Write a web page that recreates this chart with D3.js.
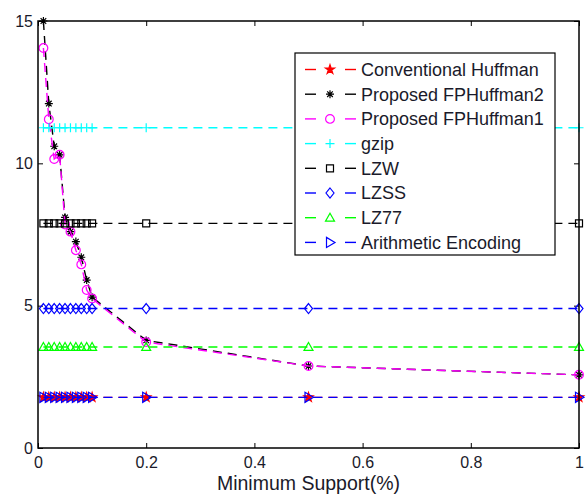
<!DOCTYPE html>
<html><head><meta charset="utf-8">
<script src="https://cdn.jsdelivr.net/npm/d3@7"></script>
<style>body{margin:0;background:#fff}text{font-family:"Liberation Sans",Arial,sans-serif;fill:#1a1a2a}</style>
</head><body><svg id="c" width="586" height="494"></svg>
<script>
const xValues = [0.01,0.02,0.03,0.04,0.05,0.06,0.07,0.08,0.09,0.1,0.2,0.5,1];
const conventionalHuffman = [1.78,1.78,1.78,1.78,1.78,1.78,1.78,1.78,1.78,1.78,1.78,1.78,1.78];
const fpHuffman2 = [15.0,12.1,10.6,10.3,8.1,7.6,7.25,6.7,5.9,5.3,3.78,2.88,2.57];
const fpHuffman1 = [14.05,11.55,10.15,10.3,7.85,7.6,6.95,6.45,5.55,5.25,3.72,2.88,2.57];
const gzip = [11.25,11.25,11.25,11.25,11.25,11.25,11.25,11.25,11.25,11.25,11.25,11.25,11.25];
const lzw = [7.89,7.89,7.89,7.89,7.89,7.89,7.89,7.89,7.89,7.89,7.89,7.89,7.89];
const lzss = [4.9,4.9,4.9,4.9,4.9,4.9,4.9,4.9,4.9,4.9,4.9,4.9,4.9];
const lz77 = [3.55,3.55,3.55,3.55,3.55,3.55,3.55,3.55,3.55,3.55,3.55,3.55,3.55];
const arithmetic = [1.78,1.78,1.78,1.78,1.78,1.78,1.78,1.78,1.78,1.78,1.78,1.78,1.78];
const seriesNames = ["Conventional Huffman","Proposed FPHuffman2","Proposed FPHuffman1","gzip","LZW","LZSS","LZ77","Arithmetic Encoding"];
const xTicks = [0,0.2,0.4,0.6,0.8,1];
const yTicks = [0,5,10,15];

const series = [
  {name:seriesNames[0], values:conventionalHuffman, color:"#ff0000", marker:"pentagram"},
  {name:seriesNames[1], values:fpHuffman2, color:"#000000", marker:"asterisk"},
  {name:seriesNames[2], values:fpHuffman1, color:"#ff00ff", marker:"circle"},
  {name:seriesNames[3], values:gzip, color:"#00ffff", marker:"plus"},
  {name:seriesNames[4], values:lzw, color:"#000000", marker:"square"},
  {name:seriesNames[5], values:lzss, color:"#0000ff", marker:"diamond"},
  {name:seriesNames[6], values:lz77, color:"#00ff00", marker:"triangle"},
  {name:seriesNames[7], values:arithmetic, color:"#0000ff", marker:"tright"}
];

const svg = d3.select("#c");
const L=38, R=579, T=21, B=448;
const x = d3.scaleLinear().domain([0,1]).range([L,R]);
const y = d3.scaleLinear().domain([0,15]).range([B,T]);

function markerPath(type){
  const s=4;
  switch(type){
    case "pentagram": return d3.symbol(d3.symbolStar, 26)();
    case "asterisk": return `M${-s},0H${s}M0,${-s}V${s}M${-s*0.7},${-s*0.7}L${s*0.7},${s*0.7}M${-s*0.7},${s*0.7}L${s*0.7},${-s*0.7}`;
    case "circle": return d3.symbol(d3.symbolCircle, 60)();
    case "plus": return `M${-s-0.5},0H${s+0.5}M0,${-s-0.5}V${s+0.5}`;
    case "square": return `M${-3.5},${-3.5}H3.5V3.5H-3.5Z`;
    case "diamond": return `M0,${-5}L4,0L0,5L-4,0Z`;
    case "triangle": return `M0,${-4.5}L4.5,3.5L-4.5,3.5Z`;
    case "tright": return `M5,0L-3.5,-5L-3.5,5Z`;
  }
}

svg.append("rect").attr("x",0).attr("y",0).attr("width",586).attr("height",494).attr("fill","#fff");

const fmt = d => d3.format("")(d);
svg.append("g").attr("transform",`translate(0,${B})`)
  .call(d3.axisBottom(x).tickValues(xTicks).tickSizeInner(-5).tickSizeOuter(0).tickPadding(9).tickFormat(fmt))
  .call(g=>{g.select(".domain").remove();g.selectAll("text").attr("font-size",16).style("font-family","'Liberation Sans',Arial,sans-serif");g.selectAll("line").attr("stroke","#000");});
svg.append("g").attr("transform",`translate(0,${T})`)
  .call(d3.axisTop(x).tickValues(xTicks).tickSizeInner(-5).tickSizeOuter(0).tickFormat(""))
  .call(g=>{g.select(".domain").remove();g.selectAll("line").attr("stroke","#000");});
svg.append("g").attr("transform",`translate(${L},0)`)
  .call(d3.axisLeft(y).tickValues(yTicks).tickSizeInner(-5).tickSizeOuter(0).tickPadding(5).tickFormat(fmt))
  .call(g=>{g.select(".domain").remove();g.selectAll("text").attr("font-size",16).style("font-family","'Liberation Sans',Arial,sans-serif");g.selectAll("line").attr("stroke","#000");});
svg.append("g").attr("transform",`translate(${R},0)`)
  .call(d3.axisRight(y).tickValues(yTicks).tickSizeInner(-5).tickSizeOuter(0).tickFormat(""))
  .call(g=>{g.select(".domain").remove();g.selectAll("line").attr("stroke","#000");});

const plot = svg.append("g");
const line = d3.line().x((d,i)=>x(xValues[i])).y(d=>y(d));
series.forEach(s=>{
  const g = plot.append("g");
  g.append("path").attr("d",line(s.values)).attr("fill","none").attr("stroke",s.color)
    .attr("stroke-width",1.4).attr("stroke-dasharray","9,6");
  g.selectAll("path.m").data(s.values).join("path").attr("class","m")
    .attr("transform",(d,i)=>`translate(${x(xValues[i])},${y(d)})`)
    .attr("d",markerPath(s.marker))
    .attr("fill", s.marker==="pentagram" ? s.color : "none")
    .attr("stroke",s.color).attr("stroke-width",1.2);
});

svg.append("rect").attr("x",L).attr("y",T).attr("width",R-L).attr("height",B-T)
  .attr("fill","none").attr("stroke","#000").attr("stroke-width",1.5);

const lg = svg.append("g");
lg.append("rect").attr("x",295).attr("y",53).attr("width",260).attr("height",202)
  .attr("fill","#fff").attr("stroke","#000").attr("stroke-width",1.2);
series.forEach((s,i)=>{
  const cy = 69.5 + i*24.7;
  lg.append("line").attr("x1",305).attr("x2",316).attr("y1",cy).attr("y2",cy).attr("stroke",s.color).attr("stroke-width",1.4);
  lg.append("line").attr("x1",345).attr("x2",356).attr("y1",cy).attr("y2",cy).attr("stroke",s.color).attr("stroke-width",1.4);
  lg.append("path").attr("transform",`translate(330,${cy})`).attr("d",markerPath(s.marker))
    .attr("fill", s.marker==="pentagram" ? s.color : "none").attr("stroke",s.color).attr("stroke-width",1.2);
  lg.append("text").attr("x",361).attr("y",cy).attr("dy","0.36em").attr("font-size",18).text(s.name);
});

svg.append("text").attr("x",(L+R)/2).attr("y",490).attr("text-anchor","middle").attr("font-size",19.5).text("Minimum Support(%)");
</script></body></html>
